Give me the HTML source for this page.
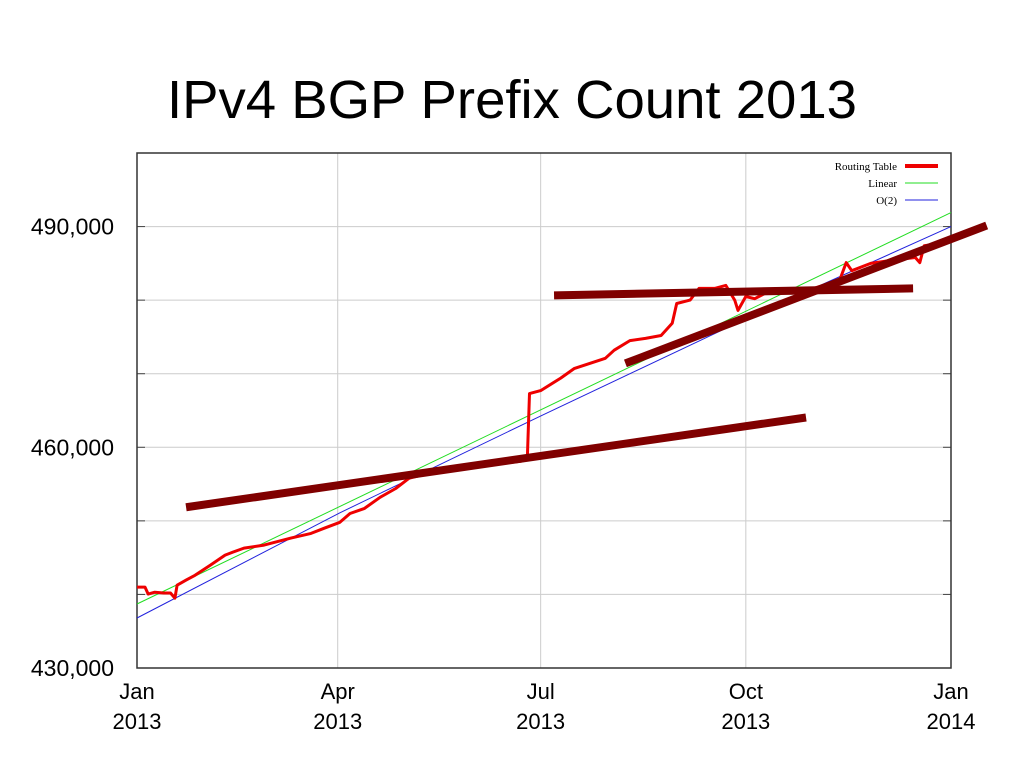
<!DOCTYPE html>
<html><head><meta charset="utf-8"><style>
body{margin:0;background:#fff;width:1024px;height:768px;overflow:hidden}
</style></head><body>
<svg width="1024" height="768" style="font-family:'Liberation Sans',sans-serif">
<text x="512" y="118" text-anchor="middle" font-size="54" textLength="690" lengthAdjust="spacingAndGlyphs">IPv4 BGP Prefix Count 2013</text>
<g id="grid"></g><g id="axes"></g><g id="series"></g><g id="legend"></g>
</svg>
<script>
const xTickDays=[0,90,181,273,365];
const xTickMonths=["Jan","Apr","Jul","Oct","Jan"];
const xTickYears=["2013","2013","2013","2013","2014"];
const yGridValues=[440000,450000,460000,470000,480000,490000];
const yTickValues=[430000,460000,490000];
const yTickLabels=["430,000","460,000","490,000"];
const routingDays=[0,3.6,5,8,12,15,17,18,22,26,33,39.5,43,48,57,69,78,84,91,95.5,102,109,116,122,129,136,145,154,163,172,175,176,181,190,196,203,210,214,221,228,235,240,242,248,252,259,264,268,269.5,273,277,284,291,297,306,315,318,320.5,329,338,349,351,353,360,365];
const routingValues=[441000,441000,440050,440300,440200,440200,439500,441250,441950,442600,444000,445350,445750,446300,446700,447650,448300,449000,449800,451000,451700,453200,454400,455800,456300,456900,457150,457400,457800,458100,458350,467300,467700,469400,470700,471400,472100,473200,474500,474800,475200,476850,479550,480000,481600,481600,482000,480000,478600,480500,480200,481300,481000,481000,481850,482650,485100,484000,485000,485400,485800,485100,487400,487700,488400];
const linearDays=[0,365];
const linearValues=[438700,491900];
const o2Days=[0,91,182,274,365];
const o2Values=[436800,451100,464400,477600,490000];
const trendStart=[[22,451850],[187,480650],[219,471400]];
const trendEnd=[[300,464050],[348,481600],[381,490150]];

const X0=137,X1=951,Y0=668,Y1=153;
const xs=d=>X0+d*(X1-X0)/365;
const ys=v=>Y0-(v-430000)*(Y0-Y1)/70000;
const NS="http://www.w3.org/2000/svg";
function mk(p,t,a){const e=document.createElementNS(NS,t);for(const k in a)e.setAttribute(k,a[k]);p.appendChild(e);return e;}
const grid=document.getElementById('grid'),axes=document.getElementById('axes'),ser=document.getElementById('series'),leg=document.getElementById('legend');
yGridValues.forEach(v=>{const l=mk(grid,'line',{x1:X0,x2:X1,y1:ys(v),y2:ys(v),stroke:'#ccc','stroke-width':1});


const t=mk(axes,'line',{x1:X0,x2:X0+8,y1:ys(v),y2:ys(v),stroke:'#444'});


const t2=mk(axes,'line',{x1:X1-8,x2:X1,y1:ys(v),y2:ys(v),stroke:'#444'});

});
xTickDays.forEach((d,i)=>{if(i>0&&i<xTickDays.length-1){const l=mk(grid,'line',{x1:xs(d),x2:xs(d),y1:Y1,y2:Y0,stroke:'#ccc'});

}
const t=mk(axes,'text',{x:xs(d),y:699,'text-anchor':'middle','font-size':22});t.textContent=xTickMonths[i];


const t2=mk(axes,'text',{x:xs(d),y:729,'text-anchor':'middle','font-size':22});t2.textContent=xTickYears[i];

});
yTickValues.forEach((v,i)=>{const t=mk(axes,'text',{x:114,y:ys(v)+8,'text-anchor':'end','font-size':23});t.textContent=yTickLabels[i];

});
const frame=mk(axes,'rect',{x:X0,y:Y1,width:X1-X0,height:Y0-Y1,fill:'none',stroke:'#333','stroke-width':1.5});


const pts=(ds,vs)=>ds.map((d,i)=>xs(d).toFixed(1)+','+ys(vs[i]).toFixed(1)).join(' ');
const pl=mk(ser,'polyline',{points:pts(linearDays,linearValues),fill:'none',stroke:'#22dd22','stroke-width':1});


const po=mk(ser,'polyline',{points:pts(o2Days,o2Values),fill:'none',stroke:'#2222dd','stroke-width':1});


const pr=mk(ser,'polyline',{points:pts(routingDays,routingValues),fill:'none',stroke:'#ee0000','stroke-width':3,'stroke-linejoin':'round'});


trendStart.forEach((s,i)=>{const e=trendEnd[i];const l=mk(ser,'line',{x1:xs(s[0]),y1:ys(s[1]),x2:xs(e[0]),y2:ys(e[1]),stroke:'#800000','stroke-width':8});

});
const legItems=[["Routing Table","#ee0000",4],["Linear","#22dd22",1],["O(2)","#2222dd",1]];
legItems.forEach((it,i)=>{const y=166+i*17;
const t=mk(leg,'text',{x:897,y:y+4,'text-anchor':'end','font-size':11,'font-family':'Liberation Serif,serif'});t.textContent=it[0];


const l=mk(leg,'line',{x1:905,x2:938,y1:y,y2:y,stroke:it[1],'stroke-width':it[2]});

});
</script>
</body></html>
